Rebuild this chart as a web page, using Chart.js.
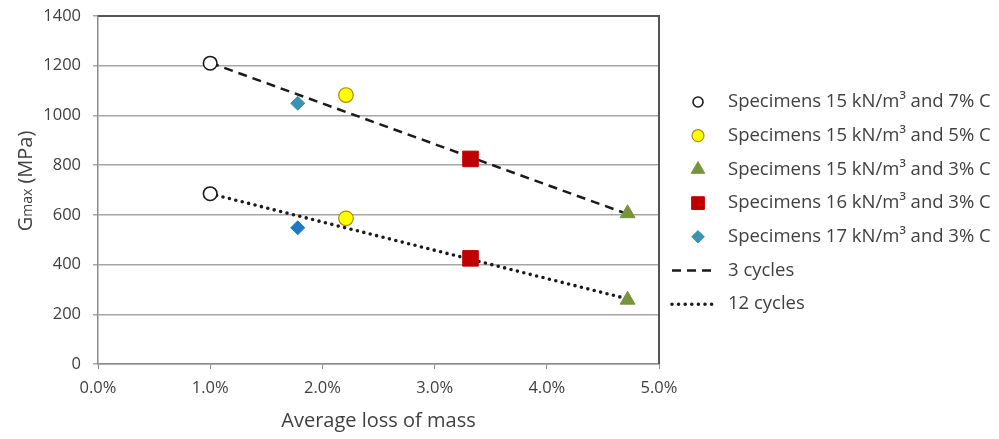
<!DOCTYPE html>
<html>
<head>
<meta charset="utf-8">
<script src="https://cdn.jsdelivr.net/npm/chart.js@4.4.1/dist/chart.umd.min.js"></script>
<style>
    html, body { margin: 0; padding: 0; background: #fff; }
    #wrap { width: 999px; height: 439px; position: relative; }
</style>
</head>
<body>
<div id="wrap"><canvas id="chartGmax" width="999" height="439"></canvas></div>
<script>
// Data
const groups = [
    'Specimens 15 kN/m³ and 7% C',
    'Specimens 15 kN/m³ and 5% C',
    'Specimens 15 kN/m³ and 3% C',
    'Specimens 16 kN/m³ and 3% C',
    'Specimens 17 kN/m³ and 3% C'
];
const lossOfMass = [1.0, 2.21, 4.72, 3.32, 1.78];   // %
const gmax3cycles = [1210, 1082, 606, 825, 1049];   // MPa
const gmax12cycles = [685, 586, 258, 425, 548];     // MPa

const trendLabels = ['3 cycles', '12 cycles'];
const trendX = [1.0, 4.72];
const trend3Y = [1212, 603];
const trend12Y = [685, 262];

const xTicks = [0, 1, 2, 3, 4, 5];
const yTicks = [0, 200, 400, 600, 800, 1000, 1200, 1400];

const FONT = "'Open Sans', sans-serif";
const TEXT = '#404040';

// Marker styles, one per group
const markerStyles = [
    { pointStyle: 'circle', bg: '#ffffff', border: '#1a1a1a', radius: 6.8, borderWidth: 1.6, legendRadius: 5 },
    { pointStyle: 'circle', bg: '#ffff00', border: '#b08a00', radius: 7.3, borderWidth: 1.2, legendRadius: 6 },
    { pointStyle: 'triangle', bg: '#77933c', border: '#77933c', radius: 8.6, borderWidth: 1, legendRadius: 7.8 },
    { pointStyle: 'rect', bg: '#c00000', border: '#c00000', radius: 11, borderWidth: 1, legendRadius: 9 },
    { pointStyle: 'rectRot', bg: ['#3b93ad', '#1f78c4'], border: ['#3b93ad', '#1f78c4'], radius: 7, borderWidth: 1, legendRadius: 6.3 }
];

const datasets = groups.map((g, i) => ({
    label: g,
    type: 'scatter',
    data: [
        { x: lossOfMass[i], y: gmax3cycles[i] },
        { x: lossOfMass[i], y: gmax12cycles[i] }
    ],
    pointStyle: markerStyles[i].pointStyle,
    pointRadius: markerStyles[i].radius,
    pointBackgroundColor: markerStyles[i].bg,
    pointBorderColor: markerStyles[i].border,
    pointBorderWidth: markerStyles[i].borderWidth,
    order: 0
}));

datasets.push({
    label: trendLabels[0],
    type: 'line',
    data: trendX.map((x, k) => ({ x: x, y: trend3Y[k] })),
    borderColor: '#1a1a1a',
    borderWidth: 2.5,
    borderDash: [9, 6],
    pointRadius: 0,
    fill: false,
    order: 1
});
datasets.push({
    label: trendLabels[1],
    type: 'line',
    data: trendX.map((x, k) => ({ x: x, y: trend12Y[k] })),
    borderColor: '#1a1a1a',
    borderWidth: 3.6,
    borderDash: [0, 6.6],
    borderCapStyle: 'round',
    pointRadius: 0,
    fill: false,
    order: 1
});

// Y axis title with smaller "max"
const yTitlePlugin = {
    id: 'yTitle',
    afterDraw(chart) {
        const ctx = chart.ctx;
        const parts = [
            { t: 'G', f: '20px ' + FONT },
            { t: 'max', f: '14px ' + FONT },
            { t: ' (MPa)', f: '20px ' + FONT }
        ];
        let total = 0;
        parts.forEach(p => { ctx.font = p.f; p.w = ctx.measureText(p.t).width; total += p.w; });
        ctx.save();
        ctx.translate(32, 181);
        ctx.rotate(-Math.PI / 2);
        ctx.fillStyle = TEXT;
        ctx.textBaseline = 'alphabetic';
        let x = -total / 2;
        parts.forEach(p => { ctx.font = p.f; ctx.fillText(p.t, x, 0); x += p.w; });
        ctx.restore();
    }
};

// Top and right border of the plot area
const borderPlugin = {
    id: 'plotBorder',
    afterDraw(chart) {
        const a = chart.chartArea;
        const ctx = chart.ctx;
        ctx.save();
        ctx.strokeStyle = '#555555';
        ctx.lineWidth = 2;
        ctx.beginPath();
        ctx.moveTo(a.left, a.top);
        ctx.lineTo(a.right, a.top);
        ctx.lineTo(a.right, a.bottom);
        ctx.stroke();
        ctx.restore();
    }
};

// Legend on the right
const legendPlugin = {
    id: 'sideLegend',
    afterDraw(chart) {
        const ctx = chart.ctx;
        const x0 = 672, x1 = 715, xm = 698, xt = 728;
        let y = 102;
        const step = 33.7;
        ctx.save();
        ctx.font = '18.5px ' + FONT;
        ctx.textBaseline = 'middle';
        chart.data.datasets.forEach((ds, i) => {
            if (ds.type === 'scatter') {
                const st = markerStyles[i];
                ctx.fillStyle = Array.isArray(st.bg) ? st.bg[0] : st.bg;
                ctx.strokeStyle = Array.isArray(st.border) ? st.border[0] : st.border;
                ctx.lineWidth = st.borderWidth;
                ctx.setLineDash([]);
                Chart.helpers.drawPoint(ctx, {
                    pointStyle: st.pointStyle, radius: st.legendRadius,
                    rotation: 0, borderWidth: st.borderWidth
                }, xm, y);
            } else {
                ctx.strokeStyle = ds.borderColor;
                ctx.lineWidth = ds.borderWidth;
                ctx.lineCap = ds.borderCapStyle || 'butt';
                ctx.setLineDash(ds.borderDash);
                ctx.beginPath();
                ctx.moveTo(x0, y);
                ctx.lineTo(x1, y);
                ctx.stroke();
                ctx.setLineDash([]);
            }
            ctx.fillStyle = TEXT;
            ctx.fillText(ds.label, xt, y);
            y += step;
        });
        ctx.restore();
    }
};

const ctx = document.getElementById('chartGmax').getContext('2d');
new Chart(ctx, {
    type: 'scatter',
    data: { datasets: datasets },
    plugins: [yTitlePlugin, borderPlugin, legendPlugin],
    options: {
        responsive: false,
        animation: false,
        devicePixelRatio: 1,
        layout: { padding: { top: 16, right: 340, left: 0, bottom: 0 } },
        plugins: {
            legend: { display: false },
            tooltip: { enabled: false }
        },
        scales: {
            x: {
                type: 'linear',
                min: 0,
                max: 5,
                afterBuildTicks: scale => { scale.ticks = xTicks.map(v => ({ value: v })); },
                afterFit: scale => { scale.height = 75; },
                ticks: {
                    callback: v => v.toFixed(1) + '%',
                    font: { family: FONT, size: 16.5 },
                    color: TEXT,
                    padding: 9
                },
                grid: {
                    drawOnChartArea: false,
                    tickLength: 5,
                    color: '#8c8c8c'
                },
                border: { color: '#8c8c8c', width: 1.5 },
                title: {
                    display: true,
                    text: 'Average loss of mass',
                    font: { family: FONT, size: 20 },
                    color: TEXT,
                    padding: { top: 2, bottom: 6 }
                }
            },
            y: {
                min: 0,
                max: 1400,
                afterBuildTicks: scale => { scale.ticks = yTicks.map(v => ({ value: v })); },
                afterFit: scale => {
                    scale.width = 98;
                    scale.paddingTop = 0;
                    scale.paddingBottom = 0;
                },
                ticks: {
                    callback: v => String(v),
                    font: { family: FONT, size: 16.5 },
                    color: TEXT,
                    padding: 12
                },
                grid: {
                    color: '#a6a6a6',
                    lineWidth: 1.5,
                    tickLength: 5
                },
                border: { color: '#8c8c8c', width: 1.5 }
            }
        }
    }
});
</script>
</body>
</html>
